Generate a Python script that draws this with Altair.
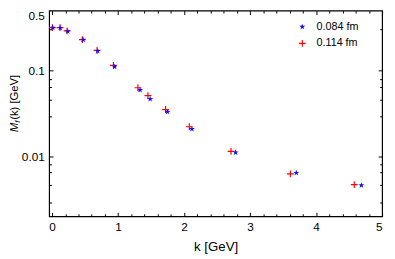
import altair as alt
import pandas as pd

series_names = ["0.084 fm", "0.114 fm"]
k_084 = [0.01, 0.123, 0.237, 0.47, 0.691, 0.948, 1.333, 1.486, 1.748, 2.118, 2.78, 3.70, 4.686]
m_084 = [0.316, 0.314, 0.287, 0.229, 0.169, 0.111, 0.0593, 0.0465, 0.033, 0.0208, 0.0111, 0.00641, 0.0046]
k_114 = [0.004, 0.12, 0.227, 0.459, 0.681, 0.929, 1.30, 1.452, 1.719, 2.079, 2.711, 3.61, 4.578]
m_114 = [0.316, 0.316, 0.290, 0.229, 0.172, 0.115, 0.063, 0.051, 0.0351, 0.0221, 0.0114, 0.00624, 0.00468]

x_major = [0, 1, 2, 3, 4, 5]
x_minor = [0.2, 0.4, 0.6, 0.8, 1.2, 1.4, 1.6, 1.8, 2.2, 2.4, 2.6, 2.8,
           3.2, 3.4, 3.6, 3.8, 4.2, 4.4, 4.6, 4.8]
y_labels = [0.5, 0.1, 0.01]
y_major = [0.1, 0.01]
y_minor = [0.3, 0.08, 0.065, 0.046, 0.029, 0.0081, 0.0065, 0.0046, 0.0029]
x_title = "k [GeV]"
y_title_parts = ["M", "f", "(k) [GeV]"]

df = pd.concat([
    pd.DataFrame({"k": k_114, "m": m_114, "s": series_names[1]}),
    pd.DataFrame({"k": k_084, "m": m_084, "s": series_names[0]}),
], ignore_index=True)

W, H = 340, 210
FONT = "Liberation Sans"
xs = alt.Scale(domain=[-0.045, 5], nice=False, zero=False)
ys = alt.Scale(type="log", domain=[0.002, 0.5], nice=False)
PLUS = "M-1,-0.17H1V0.17H-1ZM-0.17,-1H0.17V1H-0.17Z"
STAR = ("M0,-1L0.235,-0.324L0.951,-0.309L0.38,0.124L0.588,0.809L0,0.4"
        "L-0.588,0.809L-0.38,0.124L-0.951,-0.309L-0.235,-0.324Z")

leg = alt.Legend(title=None, orient="none", legendX=253, legendY=11,
                 labelFontSize=11, labelFont=FONT, labelOffset=9,
                 rowPadding=5, padding=0, labelColor="black")

points = alt.Chart(df).mark_point(filled=True, opacity=1).encode(
    x=alt.X("k:Q", scale=xs, axis=alt.Axis(
        orient="bottom", values=x_major, ticks=False, domain=False,
        labelPadding=6, format="d", title=x_title, titlePadding=7,
        titleFontSize=13.5, titleFontWeight="normal")),
    y=alt.Y("m:Q", scale=ys, axis=alt.Axis(
        orient="left", values=y_labels, ticks=False, domain=False,
        labelPadding=5, format="~g", labelFlush=True, title=None)),
    color=alt.Color("s:N", scale=alt.Scale(domain=series_names, range=["#1010ff", "#ff0000"]), legend=leg),
    shape=alt.Shape("s:N", scale=alt.Scale(domain=series_names, range=[STAR, PLUS]), legend=leg),
    size=alt.Size("s:N", scale=alt.Scale(domain=series_names, range=[40, 49]), legend=leg),
)


def tick_axis(orient, values, size, offset):
    return alt.Axis(orient=orient, values=values, tickSize=size, offset=offset,
                    labels=False, domain=False, grid=False, title=None,
                    tickColor="black", tickWidth=1)


def ghost(xaxis, yaxis):
    return alt.Chart(df).mark_point(opacity=0).encode(
        x=alt.X("k:Q", scale=xs, axis=xaxis),
        y=alt.Y("m:Q", scale=ys, axis=yaxis),
    )


g1 = ghost(tick_axis("top", x_major, 4, -H), tick_axis("right", y_major, 4, -W))
g2 = ghost(tick_axis("top", x_minor, 2.5, -H), tick_axis("right", y_minor, 2.5, -W))
g3 = ghost(tick_axis("bottom", x_major, 4, -H), tick_axis("left", y_major, 4, -W))
g4 = ghost(tick_axis("bottom", x_minor, 2.5, -H), tick_axis("left", y_minor, 2.5, -W))


def title_part(i, xpos, ypos, size, italic):
    return alt.Chart(pd.DataFrame({"t": [y_title_parts[i]]})).mark_text(
        angle=270, align="left", baseline="middle", font=FONT, fontSize=size,
        fontStyle="italic" if italic else "normal", color="black"
    ).encode(text="t:N", x=alt.value(xpos), y=alt.value(ypos))


t1 = title_part(0, -35, 124, 11.5, True)
t2 = title_part(1, -32, 114.4, 8, True)
t3 = title_part(2, -35, 111.5, 11.5, False)

chart = alt.layer(points, g1, g2, g3, g4, t1, t2, t3).resolve_axis(
    x="independent", y="independent"
).properties(
    width=W, height=H, autosize="none",
    padding={"left": 42, "top": 0, "right": 5, "bottom": 42},
).configure_view(stroke="black", strokeWidth=1.2).configure_axis(
    labelFont=FONT, labelFontSize=12, labelColor="black",
    titleFont=FONT, titleColor="black", grid=False
)

chart.save("out.html", embed_options={"renderer": "svg", "actions": False})
